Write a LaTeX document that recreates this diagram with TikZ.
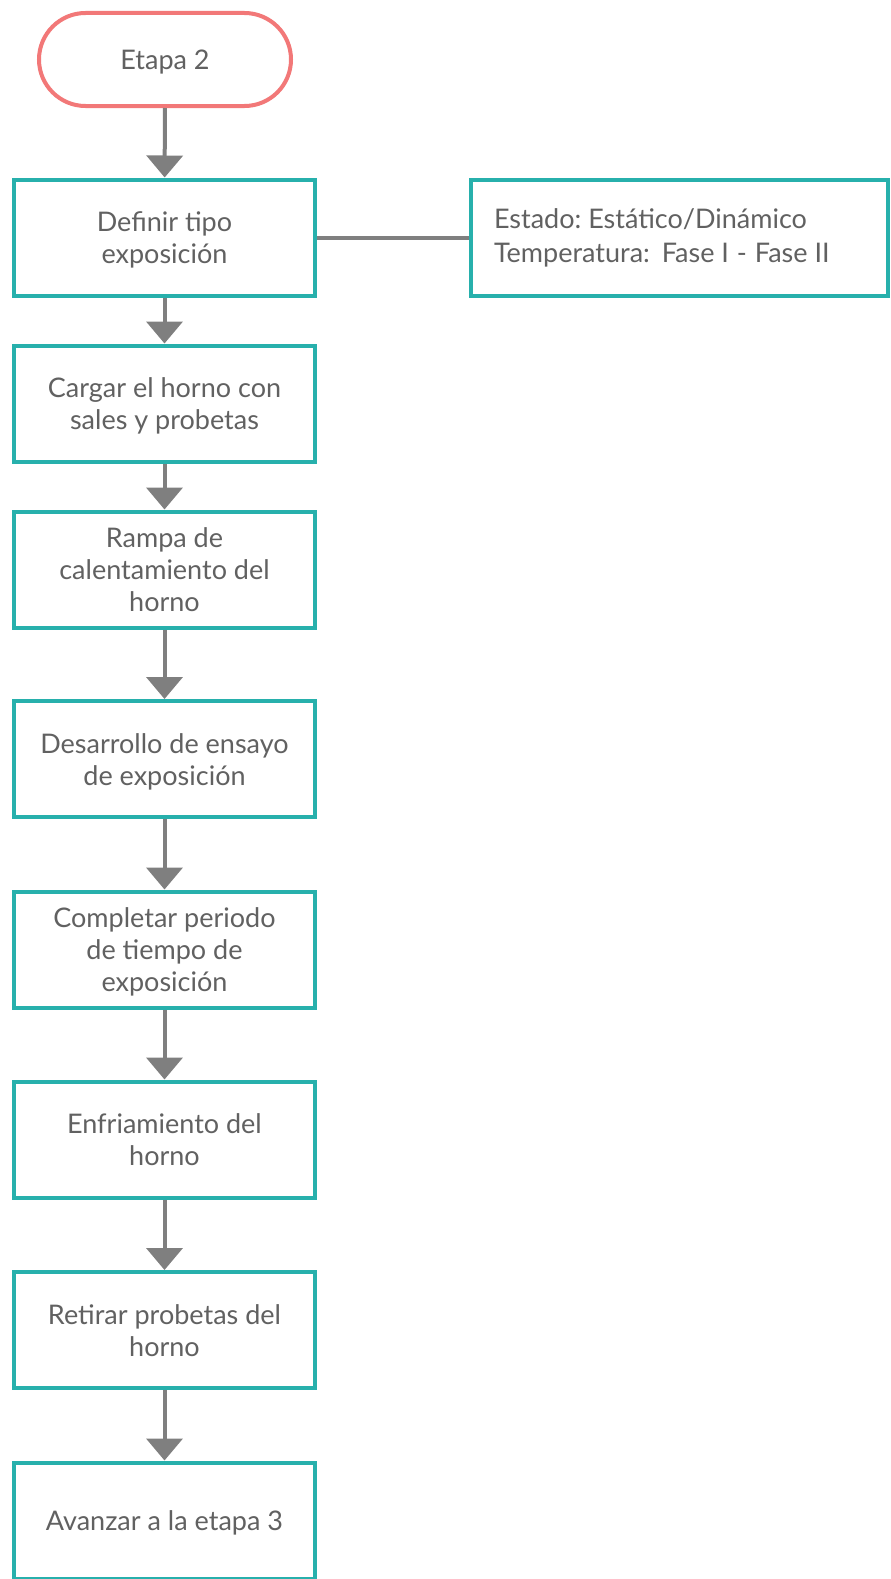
\documentclass[tikz,border=0pt]{standalone}
\usepackage{fontspec}
\setmainfont{Lato}
\usetikzlibrary{arrows.meta}
\definecolor{boxteal}{HTML}{27B0AC}
\definecolor{startred}{HTML}{F27878}
\definecolor{flowgray}{HTML}{7F7F7F}
\definecolor{textgray}{HTML}{616161}
% fixed line boxes: 26pt above and 6pt below the baseline
\newcommand\lnstrut{\rule[-6pt]{0pt}{32pt}}
% taller lines for the side note
\newcommand\notestrut{\rule[-9.5pt]{0pt}{34pt}}
% centred block of lines for the step boxes
\newcommand\steptext[1]{\parbox{297pt}{\centering\lnstrut #1}}
% left-aligned block of lines for the side note
\newcommand\notetext[1]{\parbox{371pt}{\raggedright\notestrut #1}}
\tikzset{
  stepbox/.style={draw=boxteal, line width=4pt, fill=white,
    minimum width=301pt, minimum height=116pt, inner sep=0pt,
    text=textgray, font=\fontsize{27}{32}\selectfont\frenchspacing},
  startbox/.style={draw=startred, line width=4pt, fill=white,
    rounded corners=46.5pt, minimum width=252pt, minimum height=93pt,
    inner sep=0pt, text=textgray, font=\fontsize{27}{32}\selectfont},
  notebox/.style={draw=boxteal, line width=4pt, fill=white,
    minimum width=417pt, minimum height=116pt, inner sep=0pt,
    text=textgray, font=\fontsize{27}{34}\selectfont\frenchspacing},
  flow/.style={draw=flowgray, line width=4pt,
    -{Triangle[width=36pt,length=22pt]}},
  link/.style={draw=flowgray, line width=4pt}
}
\begin{document}
\begin{tikzpicture}[x=1pt,y=-1pt]
  \useasboundingbox (0,0) rectangle (891,1579);
  \clip (0,0) rectangle (891,1579);

  % start terminal
  \node[startbox] (start) at (165,59.5) {\lnstrut Etapa 2};

  % main sequence of steps
  \node[stepbox] (s1) at (164.5,237.5) {\steptext{Definir tipo\\\lnstrut exposición}};
  \node[stepbox] (s2) at (164.5,403.5) {\steptext{Cargar el horno con\\\lnstrut sales y probetas}};
  \node[stepbox] (s3) at (164.5,569.5) {\steptext{Rampa de\\\lnstrut calentamiento del\\\lnstrut horno}};
  \node[stepbox] (s4) at (164.5,759) {\steptext{Desarrollo de ensayo\\\lnstrut de exposición}};
  \node[stepbox] (s5) at (164.5,949.5) {\steptext{Completar periodo\\\lnstrut de tiempo de\\\lnstrut exposición}};
  \node[stepbox] (s6) at (164.5,1139.5) {\steptext{Enfriamiento del\\\lnstrut horno}};
  \node[stepbox] (s7) at (164.5,1330) {\steptext{Retirar probetas del\\\lnstrut horno}};
  \node[stepbox] (s8) at (164.5,1520.5) {\steptext{Avanzar a la etapa 3}};

  % side note for the exposure type
  \node[notebox] (note) at (679.5,237.5)
    {\notetext{Estado: Estático/Dinámico\\\notestrut Temperatura:\ \hspace{5pt}Fase I\hspace{1pt} - \hspace{1pt}Fase II}};

  % connectors
  \draw[flow] (start) -- (s1);
  \draw[flow] (s1) -- (s2);
  \draw[flow] (s2) -- (s3);
  \draw[flow] (s3) -- (s4);
  \draw[flow] (s4) -- (s5);
  \draw[flow] (s5) -- (s6);
  \draw[flow] (s6) -- (s7);
  \draw[flow] (s7) -- (s8);
  \draw[link] (s1.east) -- (note.west);
\end{tikzpicture}
\end{document}
